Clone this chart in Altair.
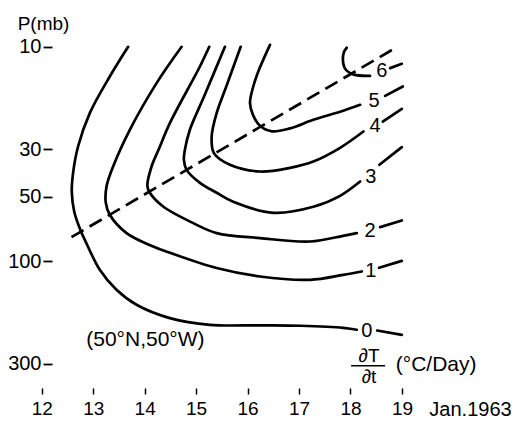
import altair as alt
import pandas as pd

FONT = "Liberation Sans"

DAY_TICKS = [12, 13, 14, 15, 16, 17, 18, 19]
P_TICKS = [10, 30, 50, 100, 300]

# isolines of dT/dt (deg C / day): main run + short piece after the label
C0_DAY = [13.679, 13.323, 12.934, 12.706, 12.609, 12.584, 12.632, 12.765, 12.837, 13.128, 13.453, 13.842, 14.490, 15.268, 16.241, 17.019, 17.856, 18.123]
C0_P = [10.0, 13.75, 20.37, 29.15, 38.78, 47.39, 58.73, 72.79, 79.31, 109.4, 135.6, 159.3, 183.8, 197.5, 198.5, 199.5, 203.9, 208.3]
C0_END_DAY = [18.518, 18.998]
C0_END_P = [209.9, 219.8]

C1_DAY = [14.718, 14.232, 13.712, 13.387, 13.259, 13.245, 13.323, 13.648, 14.165, 14.490, 15.399, 16.241, 17.214, 17.856, 18.220]
C1_P = [10.0, 14.76, 24.36, 36.13, 44.77, 53.33, 60.65, 73.81, 85.22, 91.19, 107.4, 117.6, 121.8, 115.5, 111.4]
C1_END_DAY = [18.556, 18.998]
C1_END_P = [107.1, 99.4]

C2_DAY = [15.255, 15.074, 14.490, 14.270, 14.134, 14.053, 14.101, 14.360, 14.944, 15.399, 16.241, 17.214, 17.856, 18.123]
C2_P = [10.0, 12.35, 22.68, 30.2, 36.13, 44.44, 47.89, 55.49, 66.31, 73.81, 77.88, 80.78, 75.98, 73.81]
C2_END_DAY = [18.576, 18.998]
C2_END_P = [69.22, 64.48]

C3_DAY = [15.560, 15.152, 14.879, 14.782, 14.763, 14.815, 15.074, 15.399, 15.722, 16.500, 17.278, 17.798, 18.187]
C3_P = [10.0, 17.10, 24.36, 30.2, 33.62, 37.43, 43.03, 47.89, 52.77, 59.36, 55.67, 49.47, 42.44]
C3_END_DAY = [18.562, 18.998]
C3_END_P = [35.47, 29.34]

C4_DAY = [15.866, 15.599, 15.399, 15.302, 15.346, 15.658, 16.241, 16.825, 17.278, 17.798, 18.251]
C4_P = [10.0, 15.03, 20.37, 26.27, 31.28, 35.47, 38.12, 36.63, 34.24, 29.55, 24.81]
C4_END_DAY = [18.628, 18.998]
C4_END_P = [22.29, 19.45]

C5_DAY = [16.436, 16.222, 16.111, 16.047, 16.105, 16.241, 16.475, 16.825, 17.278, 17.798, 18.187]
C5_P = [9.79, 12.80, 15.31, 18.29, 20.75, 23.34, 24.76, 23.98, 21.89, 20.09, 18.63]
C5_END_DAY = [18.673, 19.018]
C5_END_P = [16.92, 15.31]

C6_DAY = [17.928, 17.875, 17.853, 17.903, 18.066, 18.381]
C6_P = [10.1, 10.55, 11.56, 12.73, 13.48, 13.65]
C6_END_DAY = [18.770, 18.998]
C6_END_P = [12.57, 12.0]

LEVELS = ["0", "1", "2", "3", "4", "5", "6"]
LEVEL_DAY = [18.317, 18.395, 18.381, 18.395, 18.479, 18.459, 18.608]
LEVEL_P = [209.9, 110.3, 71.78, 40.22, 23.51, 17.98, 13.03]

# dashed axis of maximum warming
AXIS_DAY = [12.578, 18.868]
AXIS_P = [77.06, 10.14]

STATION = "(50°N,50°W)"
STATION_DAY = 14.014
STATION_P = 231.9

UNIT = "(°C/Day)"
UNIT_DAY = 19.665
UNIT_P = 303.3

FRAC_TOP = "∂T"
FRAC_BOTTOM = "∂t"
FRAC_DAY = 18.36
FRAC_TOP_P = 275.4
FRAC_BOTTOM_P = 345.0
FRAC_BAR_DAY = [18.012, 18.673]
FRAC_BAR_P = 306.6

# ---------------------------------------------------------------
contours = [
    (C0_DAY, C0_P, C0_END_DAY, C0_END_P),
    (C1_DAY, C1_P, C1_END_DAY, C1_END_P),
    (C2_DAY, C2_P, C2_END_DAY, C2_END_P),
    (C3_DAY, C3_P, C3_END_DAY, C3_END_P),
    (C4_DAY, C4_P, C4_END_DAY, C4_END_P),
    (C5_DAY, C5_P, C5_END_DAY, C5_END_P),
    (C6_DAY, C6_P, C6_END_DAY, C6_END_P),
]
rows = []
for k, (md, mp, ed, ep) in enumerate(contours):
    for i, (d, p) in enumerate(zip(md, mp)):
        rows.append({"seg": f"{k}a", "i": i, "day": d, "p": p})
    for i, (d, p) in enumerate(zip(ed, ep)):
        rows.append({"seg": f"{k}b", "i": i, "day": d, "p": p})
lines_df = pd.DataFrame(rows)

axis_df = pd.DataFrame({"day": AXIS_DAY, "p": AXIS_P, "i": [0, 1]})
labels_df = pd.DataFrame({"day": LEVEL_DAY, "p": LEVEL_P, "t": LEVELS})
station_df = pd.DataFrame({"day": [STATION_DAY], "p": [STATION_P], "t": [STATION]})
unit_df = pd.DataFrame({"day": [UNIT_DAY], "p": [UNIT_P], "t": [UNIT]})
frac_df = pd.DataFrame({"day": [FRAC_DAY, FRAC_DAY], "p": [FRAC_TOP_P, FRAC_BOTTOM_P], "t": [FRAC_TOP, FRAC_BOTTOM]})
bar_df = pd.DataFrame({"day": [FRAC_BAR_DAY[0]], "day2": [FRAC_BAR_DAY[1]], "p": [FRAC_BAR_P]})

W, H = 494, 368
x_scale = alt.Scale(domain=[11.5, 21.1], nice=False, zero=False)
y_scale = alt.Scale(type="log", domain=[7.5, 389], reverse=True, nice=False)

x_axis = alt.Axis(
    values=DAY_TICKS, format="d", domain=False, grid=False,
    tickSize=6, tickWidth=1.5, tickColor="black",
    labelFont=FONT, labelFontSize=19, labelColor="black",
    labelBaseline="alphabetic", labelPadding=20,
    title="Jan.1963", titleFont=FONT, titleFontSize=20, titleFontWeight="normal",
    titleColor="black", titleX=454, titleY=27, titleAlign="center",
    titleBaseline="alphabetic",
)
y_axis = alt.Axis(
    values=P_TICKS, format="d", domain=False, grid=False, offset=-36,
    tickSize=9, tickWidth=1.8, tickColor="black",
    labelFont=FONT, labelFontSize=20, labelColor="black", labelPadding=2,
    title="P(mb)", titleFont=FONT, titleFontSize=19, titleFontWeight="normal",
    titleColor="black", titleAngle=0, titleX=-9, titleY=3, titleAlign="center",
    titleBaseline="middle",
)
X = alt.X("day:Q", scale=x_scale, axis=x_axis)
Y = alt.Y("p:Q", scale=y_scale, axis=y_axis)

lines = alt.Chart(lines_df).mark_line(
    color="black", strokeWidth=2.7, interpolate="catmull-rom", strokeCap="round"
).encode(x=X, y=Y, detail="seg:N", order="i:Q")

dashed = alt.Chart(axis_df).mark_line(
    color="black", strokeWidth=2.7, strokeDash=[14, 7]
).encode(x=X, y=Y, order="i:Q")

level_text = alt.Chart(labels_df).mark_text(
    font=FONT, fontSize=20, color="black", align="center", baseline="middle"
).encode(x=X, y=Y, text="t:N")

station_text = alt.Chart(station_df).mark_text(
    font=FONT, fontSize=21, color="black", align="center", baseline="middle"
).encode(x=X, y=Y, text="t:N")

unit_text = alt.Chart(unit_df).mark_text(
    font=FONT, fontSize=21, color="black", align="center", baseline="middle"
).encode(x=X, y=Y, text="t:N")

frac_text = alt.Chart(frac_df).mark_text(
    font=FONT, fontSize=19, color="black", align="center", baseline="middle"
).encode(x=X, y=Y, text="t:N")

frac_bar = alt.Chart(bar_df).mark_rule(color="black", strokeWidth=1.5).encode(
    x=X, x2="day2:Q", y=Y
)

chart = alt.layer(
    lines, dashed, level_text, station_text, unit_text, frac_text, frac_bar
).properties(
    width=W, height=H,
    autosize=alt.AutoSizeParams(type="none"),
    padding={"left": 8, "top": 12, "right": 5, "bottom": 42},
    background="white",
).configure_view(strokeWidth=0)

chart.save("out.html", embed_options={"renderer": "svg", "actions": False})
